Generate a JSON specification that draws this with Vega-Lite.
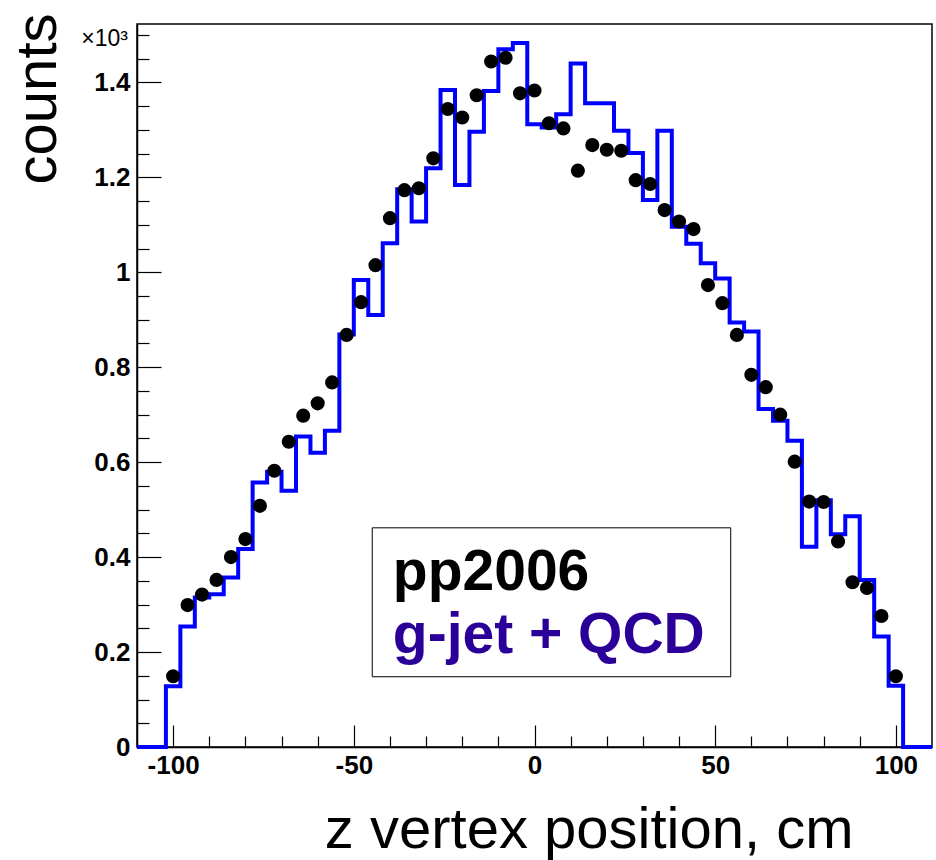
{
  "$schema": "https://vega.github.io/schema/vega-lite/v6.json",
  "width": 795,
  "height": 723,
  "autosize": {"type": "none"},
  "padding": {"left": 137, "top": 24, "right": 4, "bottom": 113},
  "background": "white",
  "config": {
    "view": {"stroke": "black", "strokeWidth": 1.5},
    "axis": {"grid": false}
  },
  "datasets": {
    "mc": [
      {"z": -110, "counts": 0}, {"z": -108, "counts": 0}, {"z": -104, "counts": 0},
      {"z": -100, "counts": 128}, {"z": -96, "counts": 254}, {"z": -92, "counts": 315},
      {"z": -88, "counts": 322}, {"z": -84, "counts": 357}, {"z": -80, "counts": 417},
      {"z": -76, "counts": 557}, {"z": -72, "counts": 580}, {"z": -68, "counts": 540},
      {"z": -64, "counts": 654}, {"z": -60, "counts": 620}, {"z": -56, "counts": 666},
      {"z": -52, "counts": 869}, {"z": -48, "counts": 984}, {"z": -44, "counts": 910},
      {"z": -40, "counts": 1061}, {"z": -36, "counts": 1175}, {"z": -32, "counts": 1107},
      {"z": -28, "counts": 1219}, {"z": -24, "counts": 1384}, {"z": -20, "counts": 1184},
      {"z": -16, "counts": 1296}, {"z": -12, "counts": 1382}, {"z": -8, "counts": 1470},
      {"z": -4, "counts": 1483}, {"z": 0, "counts": 1312}, {"z": 4, "counts": 1305},
      {"z": 8, "counts": 1333}, {"z": 12, "counts": 1440}, {"z": 16, "counts": 1356},
      {"z": 20, "counts": 1356}, {"z": 24, "counts": 1298}, {"z": 28, "counts": 1251},
      {"z": 32, "counts": 1152}, {"z": 36, "counts": 1298}, {"z": 40, "counts": 1096},
      {"z": 44, "counts": 1060}, {"z": 48, "counts": 1019}, {"z": 52, "counts": 987},
      {"z": 56, "counts": 894}, {"z": 60, "counts": 875}, {"z": 64, "counts": 712},
      {"z": 68, "counts": 687}, {"z": 72, "counts": 645}, {"z": 76, "counts": 422},
      {"z": 80, "counts": 520}, {"z": 84, "counts": 448}, {"z": 88, "counts": 486},
      {"z": 92, "counts": 352}, {"z": 96, "counts": 233}, {"z": 100, "counts": 129},
      {"z": 104, "counts": 0}, {"z": 108, "counts": 0}, {"z": 110, "counts": 0}
    ],
    "pp2006": [
      {"z": -100, "counts": 149}, {"z": -96, "counts": 299}, {"z": -92, "counts": 321},
      {"z": -88, "counts": 352}, {"z": -84, "counts": 400}, {"z": -80, "counts": 438},
      {"z": -76, "counts": 508}, {"z": -72, "counts": 582}, {"z": -68, "counts": 643},
      {"z": -64, "counts": 698}, {"z": -60, "counts": 724}, {"z": -56, "counts": 768},
      {"z": -52, "counts": 868}, {"z": -48, "counts": 937}, {"z": -44, "counts": 1015},
      {"z": -40, "counts": 1114}, {"z": -36, "counts": 1173}, {"z": -32, "counts": 1177},
      {"z": -28, "counts": 1240}, {"z": -24, "counts": 1344}, {"z": -20, "counts": 1326},
      {"z": -16, "counts": 1373}, {"z": -12, "counts": 1444}, {"z": -8, "counts": 1452},
      {"z": -4, "counts": 1377}, {"z": 0, "counts": 1383}, {"z": 4, "counts": 1314},
      {"z": 8, "counts": 1303}, {"z": 12, "counts": 1214}, {"z": 16, "counts": 1268},
      {"z": 20, "counts": 1258}, {"z": 24, "counts": 1256}, {"z": 28, "counts": 1194},
      {"z": 32, "counts": 1186}, {"z": 36, "counts": 1131}, {"z": 40, "counts": 1107},
      {"z": 44, "counts": 1091}, {"z": 48, "counts": 973}, {"z": 52, "counts": 935},
      {"z": 56, "counts": 868}, {"z": 60, "counts": 784}, {"z": 64, "counts": 758},
      {"z": 68, "counts": 700}, {"z": 72, "counts": 601}, {"z": 76, "counts": 517},
      {"z": 80, "counts": 516}, {"z": 84, "counts": 433}, {"z": 88, "counts": 347},
      {"z": 92, "counts": 335}, {"z": 96, "counts": 276}, {"z": 100, "counts": 149}
    ],
    "one": [{}]
  },
  "resolve": {"axis": {"x": "independent", "y": "independent"}},
  "layer": [
    {
      "data": {"name": "mc"},
      "mark": {"type": "line", "interpolate": "step", "color": "#0000ff", "strokeWidth": 4, "strokeJoin": "miter", "strokeCap": "butt"},
      "encoding": {
        "x": {
          "field": "z", "type": "quantitative",
          "scale": {"domain": [-110, 110], "nice": false, "zero": false},
          "axis": {
            "orient": "bottom", "values": [-100, -50, 0, 50, 100], "ticks": false,
            "labelExpr": "'' + datum.value",
            "labelFont": "Liberation Sans", "labelFontWeight": "bold", "labelFontSize": 26,
            "labelColor": "black", "labelPadding": 5, "labelFlush": false,
            "domainColor": "black", "domainWidth": 1.5,
            "title": "z vertex position, cm", "titleFont": "Liberation Sans", "titleFontSize": 58,
            "titleFontWeight": "normal", "titleColor": "black", "titleX": 716, "titleY": 100,
            "titleAlign": "right", "titleBaseline": "alphabetic"
          }
        },
        "y": {
          "field": "counts", "type": "quantitative",
          "scale": {"domain": [0, 1523], "nice": false},
          "axis": {
            "orient": "left", "values": [0, 200, 400, 600, 800, 1000, 1200, 1400], "ticks": false,
            "labelExpr": "'' + (datum.value / 1000)",
            "labelFont": "Liberation Sans", "labelFontWeight": "bold", "labelFontSize": 26,
            "labelColor": "black", "labelPadding": 7, "labelFlush": false, "labelBaseline": "middle",
            "domainColor": "black", "domainWidth": 1.5,
            "title": "counts", "titleFont": "Liberation Sans", "titleFontSize": 58,
            "titleFontWeight": "normal", "titleColor": "black", "titleAngle": 270,
            "titleX": -82, "titleY": -11, "titleAlign": "right", "titleBaseline": "alphabetic"
          }
        }
      }
    },
    {
      "data": {"name": "pp2006"},
      "mark": {"type": "point", "shape": "circle", "filled": true, "color": "black", "size": 200, "opacity": 1},
      "encoding": {
        "x": {
          "field": "z", "type": "quantitative",
          "axis": {
            "orient": "bottom", "values": [-100, -50, 0, 50, 100], "labels": false, "domain": false,
            "tickSize": -22, "tickColor": "black", "tickWidth": 1.2, "title": null
          }
        },
        "y": {
          "field": "counts", "type": "quantitative",
          "axis": {
            "orient": "left", "values": [0, 200, 400, 600, 800, 1000, 1200, 1400], "labels": false, "domain": false,
            "tickSize": -24, "tickColor": "black", "tickWidth": 1.2, "title": null
          }
        }
      }
    },
    {
      "data": {"name": "one"},
      "mark": {"type": "rect", "fill": "white", "stroke": "black", "strokeWidth": 1},
      "encoding": {
        "x": {
          "datum": -44.9, "type": "quantitative",
          "axis": {
            "orient": "bottom",
            "values": [-90, -80, -70, -60, -40, -30, -20, -10, 10, 20, 30, 40, 60, 70, 80, 90],
            "labels": false, "domain": false, "tickSize": -11, "tickColor": "black", "tickWidth": 1.2, "title": null
          }
        },
        "x2": {"datum": 54.3},
        "y": {
          "datum": 461.7, "type": "quantitative",
          "axis": {
            "orient": "left",
            "values": [50, 100, 150, 250, 300, 350, 450, 500, 550, 650, 700, 750, 850, 900, 950, 1050, 1100, 1150, 1250, 1300, 1350, 1450, 1500],
            "labels": false, "domain": false, "tickSize": -12, "tickColor": "black", "tickWidth": 1.2, "title": null
          }
        },
        "y2": {"datum": 148}
      }
    },
    {
      "data": {"name": "one"},
      "mark": {"type": "text", "text": "pp2006", "font": "Liberation Sans", "fontWeight": "bold", "fontSize": 57, "color": "black", "align": "left", "baseline": "alphabetic"},
      "encoding": {
        "x": {"datum": -39.2, "type": "quantitative", "axis": null},
        "y": {"datum": 331, "type": "quantitative", "axis": null}
      }
    },
    {
      "data": {"name": "one"},
      "mark": {"type": "text", "text": "g-jet + QCD", "font": "Liberation Sans", "fontWeight": "bold", "fontSize": 57, "color": "#2b0099", "align": "left", "baseline": "alphabetic"},
      "encoding": {
        "x": {"datum": -39.2, "type": "quantitative", "axis": null},
        "y": {"datum": 198.5, "type": "quantitative", "axis": null}
      }
    },
    {
      "data": {"name": "one"},
      "mark": {"type": "text", "text": "×10³", "font": "Liberation Sans", "fontSize": 23, "color": "black", "align": "right", "baseline": "middle", "dx": -9, "dy": 4},
      "encoding": {
        "x": {"datum": -110, "type": "quantitative", "axis": null},
        "y": {"datum": 1500, "type": "quantitative", "axis": null}
      }
    }
  ]
}
